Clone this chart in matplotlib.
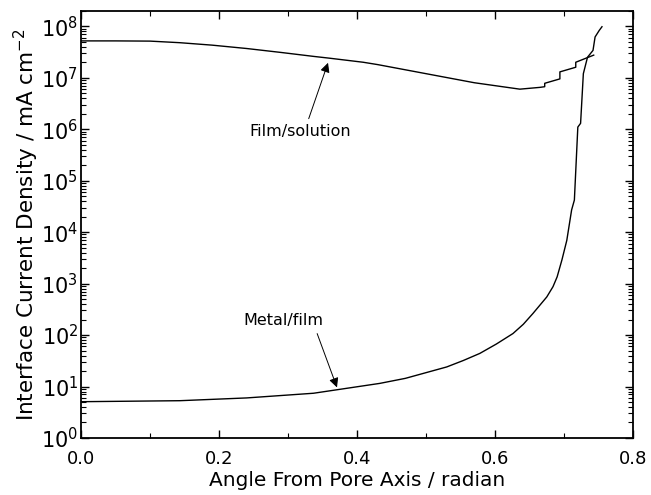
import matplotlib.pyplot as plt
from matplotlib.ticker import LogLocator, NullFormatter, MultipleLocator

# Film/solution interface (steps are repeated x values)
film_x = [0.000, 0.050, 0.100, 0.143, 0.190, 0.240, 0.290, 0.337, 0.360, 0.409,
          0.430, 0.500, 0.570, 0.636, 0.665,
          0.672, 0.672, 0.694, 0.694, 0.717, 0.717, 0.743]
film_y = [5.2e7, 5.2e7, 5.15e7, 4.8e7, 4.3e7, 3.7e7, 3.1e7, 2.6e7, 2.4e7, 2.0e7,
          1.8e7, 1.2e7, 8.0e6, 6.0e6, 6.5e6,
          6.7e6, 7.8e6, 9.5e6, 1.3e7, 1.6e7, 2.0e7, 2.75e7]

# Metal/film interface
metal_x = [0.000, 0.143, 0.240, 0.337, 0.433, 0.470, 0.530, 0.554, 0.578, 0.602,
           0.626, 0.641, 0.655, 0.675, 0.684, 0.690, 0.697, 0.704, 0.711, 0.715,
           0.720, 0.724, 0.728, 0.734, 0.742, 0.745, 0.751, 0.755]
metal_y = [5.07, 5.3, 6.0, 7.4, 11.5, 14.4, 24, 32, 44, 67,
           107, 162, 263, 550, 870, 1350, 2900, 6900, 2.7e4, 4.2e4,
           1.1e6, 1.3e6, 1.2e7, 2.5e7, 3.4e7, 6.2e7, 8.3e7, 9.8e7]

fig = plt.figure(figsize=(6.51, 4.95), dpi=100)
ax = fig.add_axes([0.1244, 0.1152, 0.848, 0.863])

ax.plot(film_x, film_y, color='black', lw=1.0)
ax.plot(metal_x, metal_y, color='black', lw=1.0)

ax.set_yscale('log')
ax.set_xlim(0, 0.8)
ax.set_ylim(1, 2e8)

ax.xaxis.set_minor_locator(MultipleLocator(0.1))
ax.yaxis.set_minor_locator(LogLocator(base=10, subs=range(2, 10), numticks=20))
ax.yaxis.set_minor_formatter(NullFormatter())
ax.set_yticks([10.0**k for k in range(0, 9)])
ax.set_yticklabels([r'$10^{%d}$' % k for k in range(0, 9)])
ax.set_xticks([0.0, 0.2, 0.4, 0.6, 0.8])
ax.set_xticklabels(['0.0', '0.2', '0.4', '0.6', '0.8'])

ax.tick_params(which='both', direction='in', top=True, right=True)
ax.tick_params(which='major', length=6, width=1)
ax.tick_params(which='minor', length=3.5, width=0.8)
ax.tick_params(axis='x', pad=9, labelsize=13)
ax.tick_params(axis='y', pad=2, labelsize=15)
for s in ax.spines.values():
    s.set_linewidth(1.3)

ax.set_xlabel('Angle From Pore Axis / radian', fontsize=14.5, labelpad=2)
ax.set_ylabel(r'Interface Current Density / mA cm$^{-2}$', fontsize=15.5, labelpad=0)

ax.annotate('Film/solution', xy=(0.358, 1.95e7), xytext=(0.317, 9.0e5),
            ha='center', va='center', fontsize=11.5,
            arrowprops=dict(arrowstyle='-|>', color='black', lw=0.7,
                            mutation_scale=14, shrinkA=2, shrinkB=0,
                            relpos=(0.57, 1.0)))
ax.annotate('Metal/film', xy=(0.371, 9.6), xytext=(0.293, 190),
            ha='center', va='center', fontsize=11.5,
            arrowprops=dict(arrowstyle='-|>', color='black', lw=0.7,
                            mutation_scale=14, shrinkA=2, shrinkB=0,
                            relpos=(0.9, 0.0)))

fig.savefig('out.png', dpi=100)
